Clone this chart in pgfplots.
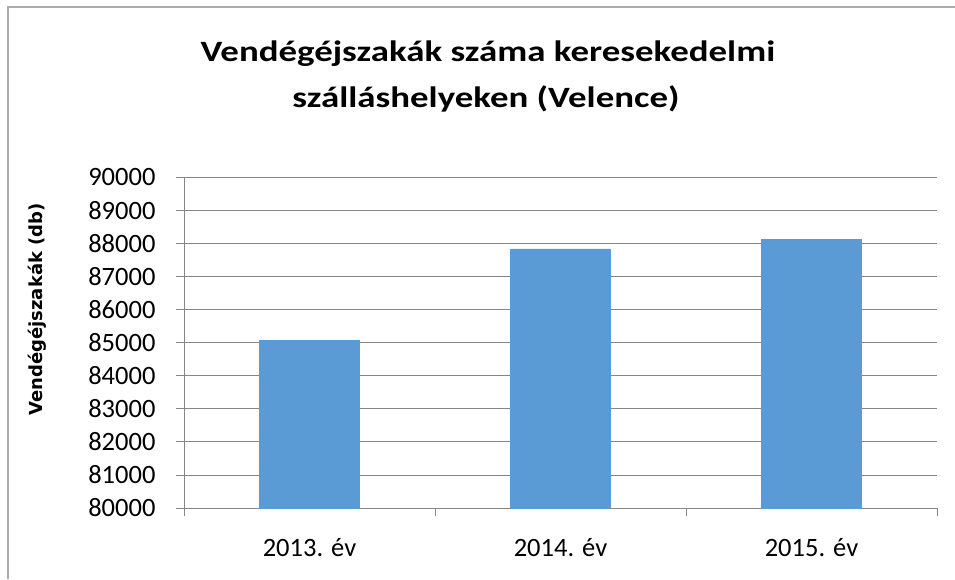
\documentclass[border=0pt]{standalone}
\usepackage{pgfplots}
\pgfplotsset{compat=1.18}
\usepackage{fontspec}
\setmainfont{Carlito}
\newfontfamily\ylabfont{DejaVu Sans}
\definecolor{barblue}{RGB}{91,155,213}
\definecolor{gridgray}{RGB}{134,134,134}
\definecolor{framegray}{RGB}{170,170,170}
\begin{document}
\begin{tikzpicture}[x=1pt,y=1pt]
\path[use as bounding box] (0,0) rectangle (955,579);
\draw[framegray, line width=1.5pt] (8,0) -- (8,572) -- (955,572);
\begin{axis}[
  at={(184pt,71pt)}, anchor=south west,
  scale only axis, width=753pt, height=331pt,
  xmin=-0.5, xmax=2.5, ymin=80000, ymax=90000,
  ytick={80000,81000,...,90000},
  scaled y ticks=false,
  xtick={-0.5,0.5,1.5,2.5}, xticklabels={},
  extra x ticks={0,1,2},
  extra x tick labels={2013. év,2014. év,2015. év},
  extra x tick style={major tick length=0pt, grid=none},
  ymajorgrids, grid style={gridgray, line width=0.8pt},
  axis x line*=bottom, axis y line*=left,
  axis line style={gridgray, line width=0.8pt},
  tick style={gridgray, line width=0.8pt},
  tick align=outside, major tick length=8pt,
  /pgf/number format/1000 sep={},
  /pgf/number format/assume math mode=true,
  ticklabel style={font=\fontsize{26.5}{30}\selectfont, text=black},
  yticklabel style={xshift=-17pt},
  xticklabel style={yshift=-27pt},
]
\addplot[ybar, bar width=100pt, fill=barblue, draw=barblue] coordinates {(0,85070) (1,87828) (2,88121)};
\end{axis}
\node[anchor=base, xscale=1.25, font=\fontsize{29.5}{34}\selectfont\bfseries] at (488,517.3) {Vendégéjszakák száma keresekedelmi};
\node[anchor=base, xscale=1.25, font=\fontsize{29.5}{34}\selectfont\bfseries] at (486,471.7) {szálláshelyeken (Velence)};
\node[rotate=90, font=\ylabfont\fontsize{18}{20}\selectfont\bfseries] at (37,309.5-40) {Vendégéjszakák (db)};
\end{tikzpicture}
\end{document}
